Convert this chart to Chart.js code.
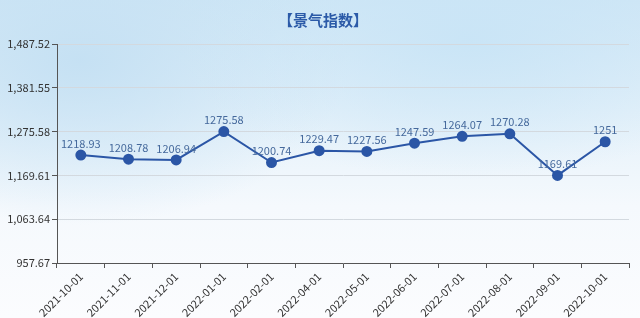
<!DOCTYPE html>
<html>
<head>
<meta charset="utf-8">
<script src="https://cdn.jsdelivr.net/npm/chart.js@4/dist/chart.umd.min.js"></script>
<style>
  html, body { margin: 0; padding: 0; width: 640px; height: 318px; overflow: hidden; }
  body {
    background:
      radial-gradient(ellipse 420px 200px at 470px 40px, rgba(200,228,246,0.9), rgba(200,228,246,0) 70%),
      radial-gradient(ellipse 360px 220px at 80px 60px, rgba(196,224,243,0.95), rgba(196,224,243,0) 75%),
      linear-gradient(180deg, #d0e7f6 0%, #e4f1fa 35%, #f5f9fd 65%, #fbfcfe 100%);
  }
  #wrap { position: absolute; left: 0; top: 0; width: 640px; height: 318px; }
</style>
</head>
<body>
<div id="wrap"><canvas id="c" width="640" height="318"></canvas></div>
<script>
const categories = ['2021-10-01','2021-11-01','2021-12-01','2022-01-01','2022-02-01','2022-04-01',
                    '2022-05-01','2022-06-01','2022-07-01','2022-08-01','2022-09-01','2022-10-01'];
const indexValues = [1218.93, 1208.78, 1206.94, 1275.58, 1200.74, 1229.47,
                     1227.56, 1247.59, 1264.07, 1270.28, 1169.61, 1251];
const yTicks = [957.67, 1063.64, 1169.61, 1275.58, 1381.55, 1487.52];
const titleText = '【景气指数】';

const lineColor = '#2b56a6';
const fontFamily = '"Noto Sans CJK SC", "Noto Sans", sans-serif';

// heading drawn above the plot
const heading = {
  id: 'heading',
  afterDraw(chart) {
    const ctx = chart.ctx;
    ctx.save();
    ctx.font = 'bold 15px ' + fontFamily;
    ctx.fillStyle = '#2b5aa8';
    ctx.textAlign = 'center';
    ctx.textBaseline = 'middle';
    ctx.fillText(titleText, 323, 20);
    ctx.restore();
  }
};

// value labels above each point
const pointLabels = {
  id: 'pointLabels',
  afterDatasetsDraw(chart) {
    const ctx = chart.ctx;
    const meta = chart.getDatasetMeta(0);
    ctx.save();
    ctx.font = '11px ' + fontFamily;
    ctx.fillStyle = '#45699c';
    ctx.textAlign = 'center';
    ctx.textBaseline = 'bottom';
    meta.data.forEach((pt, i) => {
      ctx.fillText(String(indexValues[i]), pt.x, pt.y - 6);
    });
    ctx.restore();
  }
};

new Chart(document.getElementById('c'), {
  type: 'line',
  data: {
    labels: categories,
    datasets: [{
      data: indexValues,
      borderColor: lineColor,
      backgroundColor: lineColor,
      borderWidth: 2,
      pointRadius: 4.5,
      pointHoverRadius: 4.5,
      pointBackgroundColor: lineColor,
      pointBorderColor: lineColor,
      tension: 0,
      fill: false
    }]
  },
  options: {
    responsive: false,
    animation: false,
    devicePixelRatio: 1,
    layout: { padding: { top: 44, right: 11, left: 0, bottom: 0 } },
    plugins: {
      legend: { display: false },
      tooltip: { enabled: false },
      title: { display: false }
    },
    scales: {
      x: {
        offset: true,
        grid: {
          offset: true,
          drawOnChartArea: false,
          drawTicks: true,
          tickLength: 5,
          tickColor: '#555'
        },
        border: { color: '#555', width: 1 },
        ticks: {
          minRotation: 45,
          maxRotation: 45,
          autoSkip: false,
          color: '#333',
          padding: 2,
          font: { family: fontFamily, size: 11 }
        },
        afterFit(scale) { scale.height = 55; }
      },
      y: {
        min: yTicks[0],
        max: yTicks[yTicks.length - 1],
        afterBuildTicks(scale) { scale.ticks = yTicks.map(v => ({ value: v })); },
        grid: {
          color: '#d3d9df',
          tickColor: '#555',
          tickLength: 5,
          drawTicks: true
        },
        border: { color: '#555', width: 1 },
        ticks: {
          color: '#333',
          padding: 2,
          font: { family: fontFamily, size: 11 },
          callback: v => Number(v).toLocaleString('en-US', { minimumFractionDigits: 2, maximumFractionDigits: 2 })
        },
        afterFit(scale) { scale.width = 57; }
      }
    }
  },
  plugins: [pointLabels, heading]
});
</script>
</body>
</html>
